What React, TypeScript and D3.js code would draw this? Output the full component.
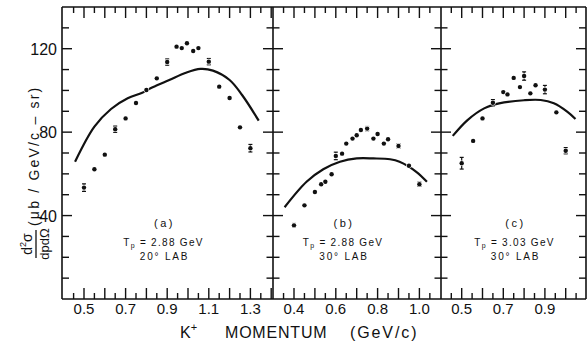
import React from "react";
import * as d3 from "d3";

// Measured K+ production cross sections (μb / GeV/c-sr) vs K+ momentum (GeV/c)
const momA = [0.5, 0.55, 0.6, 0.65, 0.7, 0.75, 0.8, 0.85, 0.9, 0.945, 0.97, 0.995, 1.025, 1.05, 1.1, 1.15, 1.2, 1.25, 1.3];
const xsecA = [53.4, 62.2, 69.2, 81.4, 86.6, 94.0, 100.2, 105.8, 113.6, 121.0, 120.3, 122.6, 118.9, 120.3, 113.8, 101.8, 96.4, 82.3, 72.3];
const errA = [1.8, 0, 0, 1.5, 0, 0, 0, 0, 1.5, 0, 0, 0, 0, 0, 1.5, 0, 0, 0, 1.8];

const momB = [0.4, 0.45, 0.5, 0.53, 0.55, 0.58, 0.6, 0.63, 0.65, 0.68, 0.7, 0.72, 0.75, 0.78, 0.8, 0.83, 0.85, 0.9, 0.95, 1.0];
const xsecB = [35.3, 44.9, 51.3, 55.0, 56.2, 59.8, 68.6, 69.7, 74.5, 76.9, 78.5, 81.0, 81.7, 76.9, 79.1, 74.5, 76.6, 73.4, 63.9, 55.0];
const errB = [0.9, 0, 0, 0, 0, 0, 1.8, 0, 0, 0, 0, 0, 1.0, 0, 0, 0, 0, 1.0, 0, 1.0];

const momC = [0.5, 0.555, 0.6, 0.65, 0.7, 0.72, 0.75, 0.78, 0.8, 0.83, 0.855, 0.9, 0.955, 1.0];
const xsecC = [65.1, 75.8, 86.6, 94.1, 99.2, 98.1, 106.0, 101.6, 106.9, 98.6, 102.5, 100.4, 89.5, 71.1];
const errC = [2.8, 0, 0, 1.5, 0, 0, 0, 0, 2.0, 0, 0, 2.0, 0, 1.5];

// Model calculations
const modelMomA = [0.457, 0.55, 0.63, 0.71, 0.78, 0.83, 0.91, 0.99, 1.06, 1.12, 1.2, 1.26, 1.34];
const modelA = [65.8, 82.6, 91.1, 96.2, 98.9, 101.5, 105.0, 108.5, 110.3, 109.5, 105.0, 97.8, 85.5];
const modelMomB = [0.355, 0.46, 0.54, 0.62, 0.7, 0.78, 0.86, 0.905, 0.985, 1.036];
const modelB = [44.0, 56.2, 62.2, 65.8, 67.4, 67.4, 67.0, 65.8, 61.0, 56.2];
const modelMomC = [0.457, 0.528, 0.608, 0.68, 0.8, 0.88, 0.943, 1.007, 1.047];
const modelC = [78.2, 85.8, 91.4, 93.8, 95.3, 95.4, 93.8, 89.8, 86.3];

const yTickLabels = [40, 80, 120];
const labelsA = ["0.5", "0.7", "0.9", "1.1", "1.3"];
const labelsB = ["0.4", "0.6", "0.8", "1.0"];
const labelsC = ["0.5", "0.7", "0.9"];

const W = 587;
const H = 346;
const left = 62;
const right = 586;
const top = 7;
const bottom = 299;
const FONT = "'Liberation Sans', Arial, sans-serif";

const y = d3.scaleLinear().domain([0, 140]).range([bottom, top]);

type Panel = {
  x0: number;
  x1: number;
  ref: number;
  refPx: number;
  k: number;
  mom: number[];
  xsec: number[];
  err: number[];
  modelMom: number[];
  model: number[];
  labels: string[];
  tag: string;
  tp: string;
  angle: string;
};

const panels: Panel[] = [
  { x0: left, x1: 273, ref: 0.5, refPx: 84, k: 208, mom: momA, xsec: xsecA, err: errA, modelMom: modelMomA, model: modelA, labels: labelsA, tag: "(a)", tp: "2.88", angle: "20°" },
  { x0: 273, x1: 441, ref: 0.4, refPx: 294, k: 209, mom: momB, xsec: xsecB, err: errB, modelMom: modelMomB, model: modelB, labels: labelsB, tag: "(b)", tp: "2.88", angle: "30°" },
  { x0: 441, x1: right, ref: 0.5, refPx: 461.7, k: 208, mom: momC, xsec: xsecC, err: errC, modelMom: modelMomC, model: modelC, labels: labelsC, tag: "(c)", tp: "3.03", angle: "30°" },
];

function PanelView({ p }: { p: Panel }) {
  const x = d3
    .scaleLinear()
    .domain([p.ref - (p.refPx - p.x0) / p.k, p.ref + (p.x1 - p.refPx) / p.k])
    .range([p.x0, p.x1]);
  const [d0, d1] = x.domain();
  const ticks: number[] = [];
  for (let v = Math.ceil(d0 / 0.05) * 0.05; v < d1 - 0.005; v += 0.05) {
    if (x(v) - p.x0 > 3) ticks.push(+v.toFixed(2));
  }
  const line = d3
    .line<number>()
    .x((_, i) => x(p.modelMom[i]))
    .y((d) => y(d))
    .curve(d3.curveCatmullRom.alpha(0.5));
  const cx = (p.x0 + p.x1) / 2 + (p.tag === "(b)" ? -13 : p.tag === "(c)" ? 2 : -3);
  return (
    <g>
      {ticks.map((t) => {
        const major = Math.abs(Math.round(t * 10) - t * 10) < 1e-6;
        const len = major ? 11 : 6;
        return (
          <g key={t} stroke="#111" strokeWidth={1.4}>
            <line x1={x(t)} x2={x(t)} y1={bottom} y2={bottom - len} />
            <line x1={x(t)} x2={x(t)} y1={top} y2={top + len} />
          </g>
        );
      })}
      {p.labels.map((l) => (
        <text key={l} x={x(+l)} y={314} textAnchor="middle" fontSize={15} fontFamily={FONT} fill="#111">
          {l}
        </text>
      ))}
      <path d={line(p.model) || ""} fill="none" stroke="#111" strokeWidth={2.2} />
      {p.mom.map((m, i) => (
        <g key={i}>
          {p.err[i] > 0 && (
            <g stroke="#111" strokeWidth={1.2}>
              <line x1={x(m)} x2={x(m)} y1={y(p.xsec[i] - p.err[i])} y2={y(p.xsec[i] + p.err[i])} />
              <line x1={x(m) - 2} x2={x(m) + 2} y1={y(p.xsec[i] - p.err[i])} y2={y(p.xsec[i] - p.err[i])} />
              <line x1={x(m) - 2} x2={x(m) + 2} y1={y(p.xsec[i] + p.err[i])} y2={y(p.xsec[i] + p.err[i])} />
            </g>
          )}
          <circle cx={x(m)} cy={y(p.xsec[i])} r={2.2} fill="#111" stroke="#fff" strokeWidth={1.2} paintOrder="stroke" />
        </g>
      ))}
      <g fontFamily={FONT} fill="#111" textAnchor="middle">
        <text x={cx} y={227} fontSize={11} letterSpacing={2.5}>{p.tag}</text>
        <text x={cx - 1} y={246} fontSize={10} letterSpacing={1.3}>
          T<tspan fontSize={7} dy={2}>p</tspan>
          <tspan dy={-2}>{` = ${p.tp} GeV`}</tspan>
        </text>
        <text x={cx} y={260} fontSize={10} letterSpacing={1.8}>{`${p.angle} LAB`}</text>
      </g>
    </g>
  );
}

export default function App() {
  const yTicks = d3.range(10, 140, 10);
  return (
    <svg width={W} height={H} style={{ position: "fixed", left: 0, top: 0, background: "#fff" }}>
      <rect width={W} height={H} fill="#fff" />
      {panels.map((p) => (
        <PanelView key={p.tag} p={p} />
      ))}
      {/* frame and panel dividers */}
      <g stroke="#111" strokeWidth={1.6} fill="none">
        <line x1={left} x2={right} y1={top} y2={top} />
        <line x1={left} x2={right} y1={bottom} y2={bottom} />
        <line x1={left} x2={left} y1={top} y2={bottom} />
        <line x1={right} x2={right} y1={top} y2={bottom} />
        <line x1={273} x2={273} y1={top} y2={bottom} />
        <line x1={441} x2={441} y1={top} y2={bottom} />
      </g>
      {yTicks.map((t) => {
        const major = t % 40 === 0;
        const out = major ? 10 : 6.5;
        return (
          <g key={t} stroke="#111" strokeWidth={1.4}>
            <line x1={left} x2={left + (major ? 10 : 7)} y1={y(t)} y2={y(t)} />
            <line x1={273 - out} x2={273 + out} y1={y(t)} y2={y(t)} />
            <line x1={441 - out} x2={441 + out} y1={y(t)} y2={y(t)} />
            <line x1={right - (major ? 10 : 7)} x2={right} y1={y(t)} y2={y(t)} />
          </g>
        );
      })}
      {yTickLabels.map((t) => (
        <text key={t} x={57} y={y(t) + 6} textAnchor="end" fontSize={16} fontFamily={FONT} fill="#111">
          {t}
        </text>
      ))}
      {/* y axis title */}
      <g transform="translate(36,244) rotate(-90)" fontFamily={FONT} fill="#111">
        <text x={0} y={-4} textAnchor="middle" fontSize={14}>
          d<tspan fontSize={9} dy={-6}>2</tspan>
          <tspan dy={6}>σ</tspan>
        </text>
        <line x1={-14} x2={14} y1={0} y2={0} stroke="#111" strokeWidth={1.3} />
        <text x={0} y={13} textAnchor="middle" fontSize={13}>dpdΩ</text>
        <text x={18} y={3} fontSize={14} letterSpacing={2.2}>(μb / GeV/c – sr)</text>
      </g>
      {/* x axis title */}
      <g fontFamily={FONT} fill="#111" fontSize={16}>
        <text x={180} y={338}>
          K<tspan fontSize={11} dy={-7}>+</tspan>
        </text>
        <text x={225} y={338} letterSpacing={0.8}>MOMENTUM</text>
        <text x={350} y={338} letterSpacing={1.9}>(GeV/c)</text>
      </g>
    </svg>
  );
}
